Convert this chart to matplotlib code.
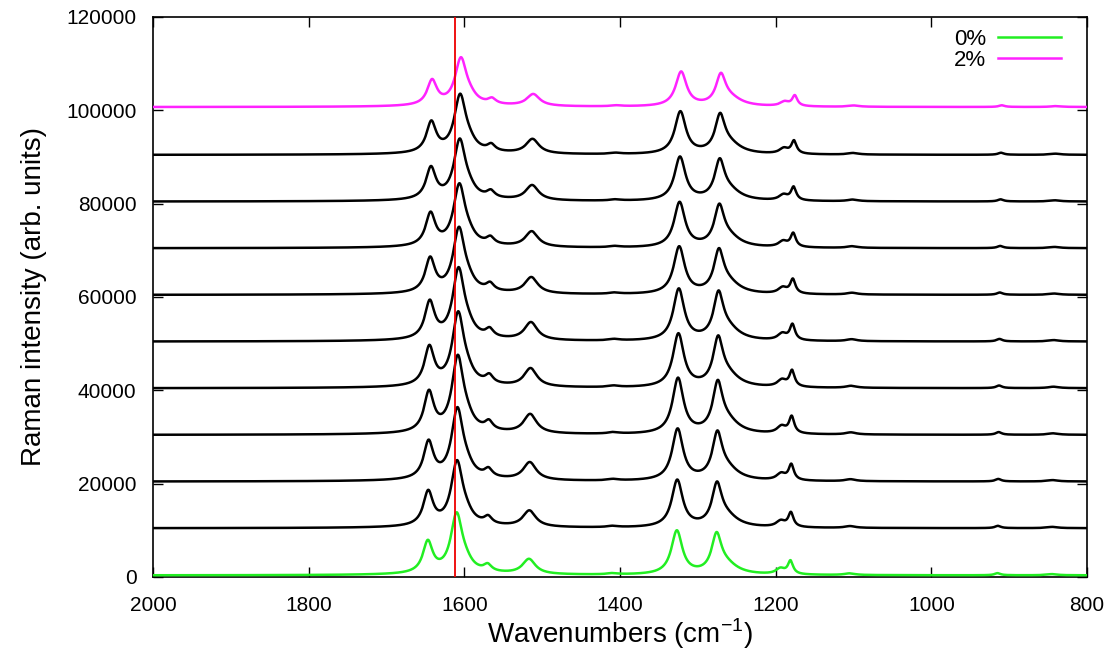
import numpy as np
import matplotlib
matplotlib.use("Agg")
import matplotlib.pyplot as plt

plt.rcParams["font.family"] = ["Liberation Sans", "DejaVu Sans"]

# Band table of the reference (0%) spectrum: centre (cm-1), height, half width
band_center = [1647, 1610, 1598, 1570, 1517, 1410, 1327, 1276, 1264, 1194, 1181, 1105, 915, 845, 1600]
band_height = [6600, 12300, 1300, 1400, 3200, 250, 9300, 7600, 2000, 1200, 2800, 350, 450, 250, 350]
band_width = [7.5, 9.0, 10.0, 6.0, 10.0, 8.0, 8.5, 7.5, 18.0, 7.0, 4.0, 8.0, 4.5, 8.0, 70.0]

# Stack of spectra: vertical offset, intensity scale, band shift, baseline
spec_offset = [0, 10000, 20000, 30000, 40000, 50000, 60000, 70000, 80000, 90000, 100000]
spec_scale = [1.0, 1.08, 1.18, 1.27, 1.22, 1.18, 1.08, 1.03, 1.0, 0.97, 0.79]
spec_shift = [0.0, -0.5, -1.0, -1.5, -2.0, -2.5, -3.0, -3.5, -4.0, -4.5, -5.5]
spec_base = [350, 450, 450, 450, 450, 450, 450, 450, 450, 450, 700]
spec_color = ["#22ee22"] + ["black"] * 9 + ["#ff22ff"]
spec_label = ["0%", None, None, None, None, None, None, None, None, None, "2%"]

marker_line = 1612

wn = np.arange(800.0, 2000.01, 0.5)


def spectrum(scale, shift, base):
    y = np.full_like(wn, float(base))
    for c, h, w in zip(band_center, band_height, band_width):
        y += scale * h * w ** 2 / ((wn - (c + shift)) ** 2 + w ** 2)
    return y


fig = plt.figure(figsize=(11.18, 6.53), dpi=100)
ax = fig.add_axes([0.1369, 0.1164, 0.8354, 0.8576])

for off, sc, sh, b, col, lab in zip(spec_offset, spec_scale, spec_shift,
                                    spec_base, spec_color, spec_label):
    z = 3 if lab else 2
    ax.plot(wn, spectrum(sc, sh, b) + off, color=col, lw=1.8, label=lab, zorder=z)

ax.axvline(marker_line, color="#ee0000", lw=1.3, zorder=4)

ax.set_xlim(2000, 800)
ax.set_ylim(0, 120000)
ax.set_xticks([2000, 1800, 1600, 1400, 1200, 1000, 800])
ax.set_yticks(np.arange(0, 120001, 20000))
ax.tick_params(direction="in", length=7, width=1, top=True, right=True,
               labelsize=15, colors="black")
ax.tick_params(axis="x", pad=14)
ax.tick_params(axis="y", pad=12)
for s in ax.spines.values():
    s.set_linewidth(1.2)

ax.set_xlabel(r"Wavenumbers (cm$^{\mathregular{-1}}$)", fontsize=20, labelpad=1)
ax.set_ylabel("Raman intensity (arb. units)", fontsize=20, labelpad=14)

ax.legend(loc="upper right", bbox_to_anchor=(0.994, 1.014), frameon=False,
          markerfirst=False, fontsize=16, handlelength=2.85, handletextpad=0.55,
          labelspacing=0.0)

fig.savefig("out.png", dpi=100)
